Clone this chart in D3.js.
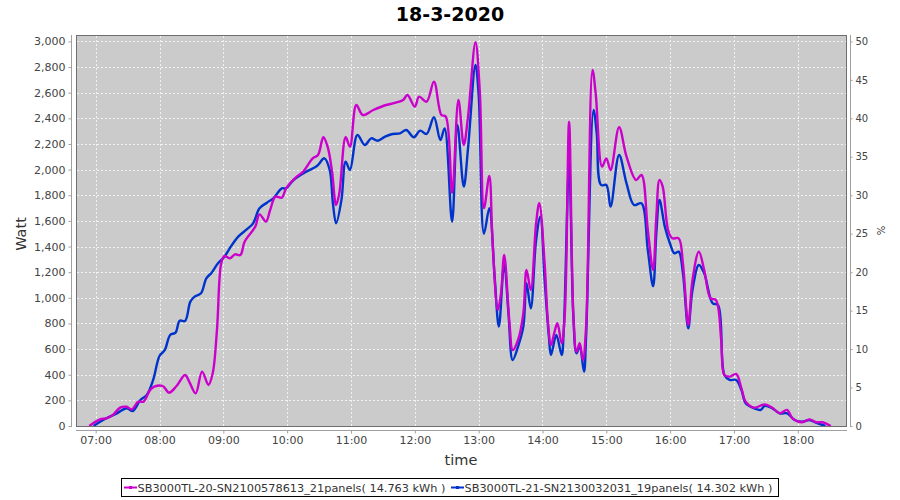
<!DOCTYPE html>
<html>
<head>
<meta charset="utf-8">
<script src="https://cdn.jsdelivr.net/npm/d3@7"></script>
<style>
  html, body { margin: 0; padding: 0; background: #fff; }
  svg { display: block; font-family: "DejaVu Sans", sans-serif; }
</style>
</head>
<body>
<svg id="chart" width="900" height="500"></svg>
<script>
// ---------------- DATA ----------------
const title = "18-3-2020";
const yLabel = "Watt";
const yRightLabel = "%";
const xLabel = "time";
const yTicks = [0,200,400,600,800,1000,1200,1400,1600,1800,2000,2200,2400,2600,2800,3000];
const yRightTicks = [0,5,10,15,20,25,30,35,40,45,50];
const xTicks = ["07:00","08:00","09:00","10:00","11:00","12:00","13:00","14:00","15:00","16:00","17:00","18:00"];
const seriesNames = [
  "SB3000TL-20-SN2100578613_21panels( 14.763 kWh )",
  "SB3000TL-21-SN2130032031_19panels( 14.302 kWh )"
];

const magentaTimes = ["06:54","07:04","07:10","07:16","07:23","07:29","07:34","07:40","07:45","07:51","07:55",
 "08:03","08:09","08:16","08:24","08:28","08:34","08:40","08:46","08:50","08:54","08:58",
 "09:01","09:06","09:11","09:16","09:20","09:30","09:34","09:40","09:44","09:49","09:55","09:59",
 "10:09","10:15","10:24","10:29","10:34","10:38","10:42","10:46","10:49","10:55","10:59",
 "11:05","11:11","11:21","11:33","11:42","11:49","11:53","12:00","12:04","12:11","12:18","12:25","12:29",
 "12:35","12:41","12:46","12:50","12:57","13:01","13:05","13:10","13:13","13:18","13:21","13:24","13:29",
 "13:32","13:37","13:42","13:45","13:49","13:54","13:57","14:02","14:05","14:08","14:11","14:14","14:18",
 "14:21","14:25","14:29","14:32","14:35","14:38","14:41","14:47","14:50","14:56","15:00","15:04","15:12",
 "15:19","15:28","15:33","15:39","15:44","15:47","15:50","15:53","15:58","16:02","16:08","16:12","16:17",
 "16:21","16:27","16:32","16:38","16:43","16:48","16:51","16:56","17:02","17:07","17:11","17:19","17:29",
 "17:36","17:43","17:50","17:55","18:04","18:11","18:17","18:23","18:31"];
const magentaValues = [0,52,60,85,143,150,130,190,190,280,307,
 312,260,312,398,345,255,424,320,411,749,1269,
 1326,1308,1339,1334,1437,1555,1651,1594,1685,1789,1781,1854,
 1945,1984,2088,2114,2252,2179,1997,1724,1815,2252,2179,
 2504,2426,2465,2504,2522,2543,2582,2491,2569,2530,2686,2426,2415,
 1820,2543,2192,2413,2993,2621,1700,1950,1450,905,1035,1334,801,
 593,671,879,1217,1061,1581,1737,1269,827,632,723,801,645,
 879,2374,879,580,645,515,775,2777,2595,2023,2088,1997,2330,
 2101,1919,1958,1529,1217,1633,1919,1867,1529,1464,1464,1269,788,
 1139,1360,1217,996,983,671,398,385,406,294,190,143,169,
 143,99,125,60,29,52,29,29,0];

const blueTimes = ["06:58","07:07","07:20","07:29","07:35","07:42","07:48","07:54",
 "08:00","08:05","08:10","08:15","08:19","08:24","08:29","08:33","08:39","08:44","08:49","08:55",
 "09:01","09:06","09:14","09:22","09:28","09:34","09:41","09:47","09:55","09:59",
 "10:06","10:18","10:28","10:35","10:40","10:43","10:46","10:51","10:55","10:59",
 "11:06","11:13","11:19","11:25","11:32","11:39","11:46","11:52","11:59","12:05","12:11","12:18","12:24","12:28",
 "12:35","12:40","12:46","12:50","12:57","13:00","13:05","13:10","13:15","13:19","13:24","13:28",
 "13:32","13:37","13:42","13:45","13:49","13:54","13:58","14:02","14:06","14:08","14:13","14:18",
 "14:20","14:25","14:29","14:32","14:35","14:39","14:41","14:48","14:51","14:55","15:00","15:04","15:12",
 "15:19","15:26","15:33","15:39","15:44","15:47","15:50","15:55","16:00","16:04","16:08","16:12","16:17",
 "16:21","16:27","16:32","16:40","16:45","16:51","16:56","17:02","17:07","17:11","17:19","17:25","17:29",
 "17:36","17:43","17:50","17:57","18:04","18:11","18:17","18:26"];
const blueValues = [0,47,99,138,117,203,242,359,
 546,593,710,728,821,819,970,1009,1035,1152,1196,1269,
 1320,1386,1477,1534,1581,1698,1742,1776,1854,1854,
 1919,1984,2028,2088,1997,1737,1581,1763,2062,1997,
 2270,2192,2244,2225,2257,2278,2283,2309,2252,2304,2278,2408,2231,2322,
 1594,2348,1867,2166,2816,2582,1500,1698,1165,775,1269,879,
 515,619,775,1113,918,1451,1633,1139,697,554,710,554,
 749,2049,853,567,619,424,697,2465,2283,1880,1880,1711,2114,
 1893,1724,1737,1373,1090,1503,1763,1555,1420,1347,1360,1191,762,
 1061,1256,1191,957,944,398,359,359,281,177,138,125,158,
 138,99,99,47,34,47,26,0];

const seriesColors = ["#cc00cc", "#0033cc"];

// ---------------- CHART ----------------
const svg = d3.select("#chart");
const parseT = d3.timeParse("%H:%M:%S");
const tm = s => parseT(s.length === 5 ? s + ":00" : s);

const P = {left: 76, right: 846, top: 35, bottom: 426};

const x = d3.scaleTime().domain([tm("06:41:30"), tm("18:45:18")]).range([P.left, P.right]);
const y = d3.scaleLinear().domain([0, 3050]).range([P.bottom, P.top]);
const yR = d3.scaleLinear().domain([0, 3050 / 60]).range([P.bottom, P.top]);

// plot background
svg.append("rect")
  .attr("x", P.left + 0.5).attr("y", P.top + 0.5)
  .attr("width", P.right - P.left).attr("height", P.bottom - P.top)
  .attr("fill", "#cbcbcb");

// grid lines
const grid = svg.append("g").attr("stroke", "#f2f2f2").attr("stroke-width", 1)
  .attr("stroke-dasharray", "2,2").attr("fill", "none");
yTicks.forEach(v => {
  const yy = Math.round(y(v)) + 0.5;
  if (yy > P.top + 1 && yy < P.bottom) grid.append("line")
    .attr("x1", P.left + 1).attr("x2", P.right).attr("y1", yy).attr("y2", yy);
});
xTicks.forEach(t => {
  const xx = Math.round(x(tm(t))) + 0.5;
  grid.append("line").attr("x1", xx).attr("x2", xx).attr("y1", P.top + 1).attr("y2", P.bottom);
});

// clip
svg.append("clipPath").attr("id", "clip").append("rect")
  .attr("x", P.left + 1).attr("y", P.top + 1)
  .attr("width", P.right - P.left - 1).attr("height", P.bottom - P.top - 1);

const line = d3.line()
  .x(d => x(d[0]))
  .y(d => y(d[1]))
  .curve(d3.curveCatmullRom.alpha(0.5));

const magData = magentaTimes.map((t, i) => [tm(t), magentaValues[i]]);
const blueData = blueTimes.map((t, i) => [tm(t), blueValues[i]]);

const lines = svg.append("g").attr("clip-path", "url(#clip)");
lines.append("path").datum(blueData).attr("d", line)
  .attr("fill", "none").attr("stroke", seriesColors[1]).attr("stroke-width", 2.4)
  .attr("stroke-linejoin", "round");
lines.append("path").datum(magData).attr("d", line)
  .attr("fill", "none").attr("stroke", seriesColors[0]).attr("stroke-width", 2.4)
  .attr("stroke-linejoin", "round");

// plot border
svg.append("rect")
  .attr("x", P.left + 0.5).attr("y", P.top + 0.5)
  .attr("width", P.right - P.left).attr("height", P.bottom - P.top)
  .attr("fill", "none").attr("stroke", "#6e6e6e");

// axes
function styleAxis(g, fs) {
  g.selectAll(".domain").attr("stroke", "#a0a0a0");
  g.selectAll(".tick line").attr("stroke", "#a0a0a0");
  g.selectAll(".tick text").attr("fill", "#444").style("font-size", fs + "px")
    .style("font-family", "'DejaVu Sans', sans-serif");
}

const gLeft = svg.append("g").attr("transform", "translate(71.5,0)")
  .call(d3.axisLeft(y).tickValues(yTicks).tickFormat(d3.format(",")).tickSize(3).tickSizeOuter(0).tickPadding(3));
gLeft.select(".domain").attr("d", `M0,${P.top}V${P.bottom + 1}`);
styleAxis(gLeft, 11);

const gRight = svg.append("g").attr("transform", "translate(850.5,0)")
  .call(d3.axisRight(yR).tickValues(yRightTicks).tickFormat(d3.format("d")).tickSize(2).tickSizeOuter(0).tickPadding(3));
gRight.select(".domain").attr("d", `M0,${P.top}V${P.bottom + 1}`);
styleAxis(gRight, 10);

const gBottom = svg.append("g").attr("transform", "translate(0,430.5)")
  .call(d3.axisBottom(x).tickValues(xTicks.map(tm)).tickFormat(d3.timeFormat("%H:%M")).tickSize(3).tickSizeOuter(0).tickPadding(3));
gBottom.select(".domain").attr("d", `M${P.left},0H${P.right + 1}`);
styleAxis(gBottom, 11);

// titles
svg.append("text").attr("x", 450).attr("y", 21).attr("text-anchor", "middle")
  .style("font-size", "19px").style("font-weight", "bold").attr("fill", "#000").text(title);
svg.append("text").attr("transform", "translate(26,234) rotate(-90)").attr("text-anchor", "middle")
  .style("font-size", "14.5px").attr("fill", "#333").text(yLabel);
svg.append("text").attr("transform", "translate(884.5,230.5) rotate(-90)").attr("text-anchor", "middle")
  .style("font-size", "10px").attr("fill", "#333").text(yRightLabel);
svg.append("text").attr("x", 461).attr("y", 465).attr("text-anchor", "middle")
  .style("font-size", "14.5px").attr("fill", "#333").text(xLabel);

// legend
const lg = svg.append("g");
lg.append("rect").attr("x", 121.5).attr("y", 478.5).attr("width", 657).attr("height", 18)
  .attr("fill", "#fff").attr("stroke", "#000");
const legendItems = [
  {x: 124, name: seriesNames[0], color: seriesColors[0]},
  {x: 451, name: seriesNames[1], color: seriesColors[1]}
];
legendItems.forEach(it => {
  lg.append("line").attr("x1", it.x).attr("x2", it.x + 13).attr("y1", 487.5).attr("y2", 487.5)
    .attr("stroke", it.color).attr("stroke-width", 2);
  lg.append("rect").attr("x", it.x + 5).attr("y", 486).attr("width", 3).attr("height", 3).attr("fill", it.color);
  lg.append("text").attr("x", it.x + 13.5).attr("y", 491.5)
    .style("font-size", "11.3px").attr("fill", "#333").text(it.name);
});
</script>
</body>
</html>
